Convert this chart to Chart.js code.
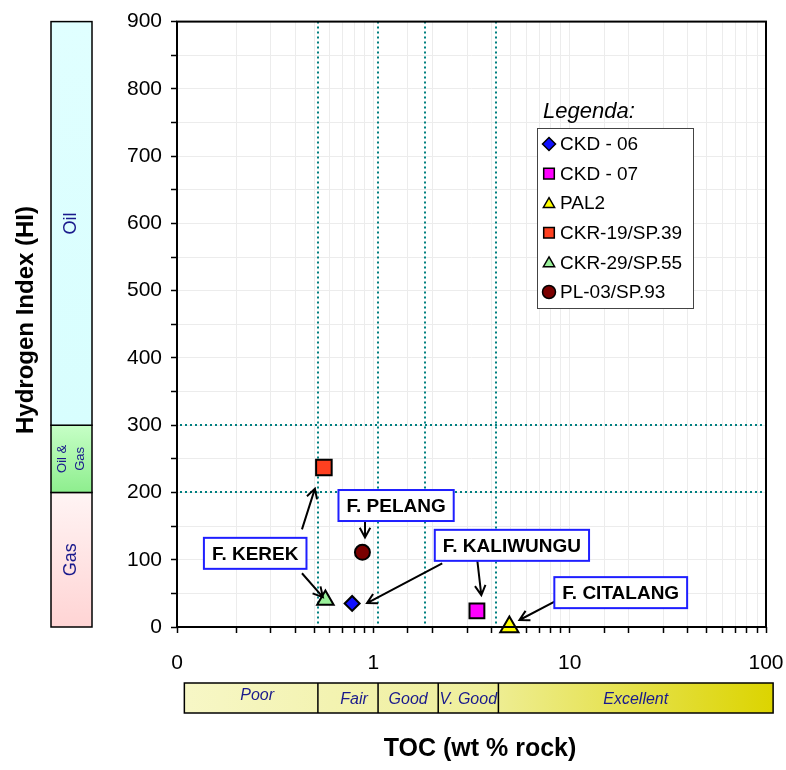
<!DOCTYPE html>
<html>
<head>
<meta charset="utf-8">
<script src="https://cdn.jsdelivr.net/npm/chart.js@4.4.0/dist/chart.umd.min.js"></script>
<style>
  body { margin: 0; background: #fff; }
  #wrap { width: 786px; height: 770px; }
</style>
</head>
<body>
<div id="wrap"><canvas id="grafico" width="786" height="770"></canvas></div>
<script>
// Datos de las muestras (TOC vs HI)
var muestras = ['CKD - 06', 'CKD - 07', 'PAL2', 'CKR-19/SP.39', 'CKR-29/SP.55', 'PL-03/SP.93'];
var toc = [0.78, 3.37, 4.93, 0.56, 0.57, 0.88];
var hi = [35, 24, 0, 237, 40, 111];

// Etiquetas de los ejes
var xTicks = [0.1, 1, 10, 100];
var xTickLabels = ['0', '1', '10', '100'];
var yTickLabels = [0, 100, 200, 300, 400, 500, 600, 700, 800, 900];

// Limites punteados
var limitesToc = [0.524, 1.061, 1.837, 4.234];
var limitesHi = [200, 300];

// Barra de calidad (TOC)
var calidad = ['Poor', 'Fair', 'Good', 'V. Good', 'Excellent'];
var calidadBordes = [0.109, 0.522, 1.057, 2.14, 4.335, 108.7];

// Barra de tipo de hidrocarburo (HI)
var zonas = ['Gas', 'Oil & Gas', 'Oil'];
var zonasBordes = [0, 200, 300, 900];

// Anotaciones (centro de la caja en TOC / HI)
var notas = ['F. KEREK', 'F. PELANG', 'F. KALIWUNGU', 'F. CITALANG'];
var notasToc = [0.2502, 1.306, 5.08, 18.2];
var notasHi = [109.5, 180.6, 121.4, 51.1];

// Flechas: desde / hasta
var flechaDesdeToc = [0.433, 0.433, 0.907, 2.243, 3.385, 8.47];
var flechaDesdeHi = [145.1, 79.9, 156.9, 94.7, 99.2, 38.5];
var flechaHastaToc = [0.504, 0.5535, 0.907, 0.9286, 3.548, 5.55];
var flechaHastaHi = [205.7, 44.4, 133.2, 35.5, 47.4, 10.4];

// Estilos
var estilos = ['rectRot', 'rect', 'triangle', 'rect', 'triangle', 'circle'];
var colores = ['#1010ff', '#ff00ff', '#ffff00', '#ff4020', '#99f099', '#7a0000'];
var radios = [7.5, 10.5, 10.5, 11, 9.5, 7.5];

var FUENTE = '"Liberation Sans", Arial, sans-serif';

var datasets = muestras.map(function (m, i) {
  return {
    label: m,
    data: [{ x: toc[i], y: hi[i] }],
    pointStyle: estilos[i],
    backgroundColor: colores[i],
    borderColor: '#000',
    borderWidth: 2,
    pointRadius: radios[i],
    pointHoverRadius: radios[i],
    clip: false
  };
});

function flecha(ctx, x1, y1, x2, y2) {
  var a = Math.atan2(y2 - y1, x2 - x1);
  var L = 11;
  ctx.beginPath();
  ctx.moveTo(x1, y1);
  ctx.lineTo(x2, y2);
  ctx.moveTo(x2 - L * Math.cos(a - 0.5), y2 - L * Math.sin(a - 0.5));
  ctx.lineTo(x2, y2);
  ctx.lineTo(x2 - L * Math.cos(a + 0.5), y2 - L * Math.sin(a + 0.5));
  ctx.stroke();
}

var decorado = {
  id: 'decorado',
  beforeDraw: function (chart) {
    var ctx = chart.ctx;
    ctx.save();
    ctx.fillStyle = '#fff';
    ctx.fillRect(0, 0, chart.width, chart.height);
    ctx.restore();
  },
  beforeDatasetsDraw: function (chart) {
    var ctx = chart.ctx, a = chart.chartArea;
    var xs = chart.scales.x, ys = chart.scales.y;
    ctx.save();
    ctx.strokeStyle = '#008080';
    ctx.lineWidth = 2;
    ctx.setLineDash([2, 3]);
    limitesToc.forEach(function (v) {
      var px = Math.round(xs.getPixelForValue(v));
      ctx.beginPath();
      ctx.moveTo(px, a.top);
      ctx.lineTo(px, a.bottom);
      ctx.stroke();
    });
    limitesHi.forEach(function (v) {
      var py = Math.round(ys.getPixelForValue(v));
      ctx.beginPath();
      ctx.moveTo(a.left + 3, py);
      ctx.lineTo(a.right, py);
      ctx.stroke();
    });
    ctx.restore();
  },
  afterDraw: function (chart) {
    var ctx = chart.ctx, a = chart.chartArea;
    var xs = chart.scales.x, ys = chart.scales.y;
    ctx.save();

    // marco del grafico
    ctx.strokeStyle = '#000';
    ctx.lineWidth = 2;
    ctx.strokeRect(a.left, a.top, a.right - a.left, a.bottom - a.top);

    // barra HI (izquierda)
    var bx = 51, bw = 41;
    var rellenos = [['#fff4f4', '#ffd4d4'], ['#c6ffc6', '#8eee8e'], ['#e0ffff', '#d8fefe']];
    for (var i = 0; i < zonas.length; i++) {
      var yTop = ys.getPixelForValue(zonasBordes[i + 1]);
      var yBot = ys.getPixelForValue(zonasBordes[i]);
      var g = ctx.createLinearGradient(0, yTop, 0, yBot);
      g.addColorStop(0, rellenos[i][0]);
      g.addColorStop(1, rellenos[i][1]);
      ctx.fillStyle = g;
      ctx.fillRect(bx, yTop, bw, yBot - yTop);
      ctx.strokeStyle = '#000';
      ctx.lineWidth = 1.5;
      ctx.strokeRect(bx, yTop, bw, yBot - yTop);
      ctx.save();
      ctx.translate(bx + bw / 2, (yTop + yBot) / 2);
      ctx.rotate(-Math.PI / 2);
      ctx.fillStyle = '#1a1a8c';
      ctx.textAlign = 'center';
      ctx.textBaseline = 'middle';
      if (zonas[i] === 'Oil & Gas') {
        ctx.font = '13px ' + FUENTE;
        ctx.fillText('Oil &', 0, -9);
        ctx.fillText('Gas', 0, 9);
      } else {
        ctx.font = '18px ' + FUENTE;
        ctx.fillText(zonas[i], 0, 0);
      }
      ctx.restore();
    }

    // barra de calidad TOC (abajo)
    var cy = 683, ch = 30;
    var cx0 = xs.getPixelForValue(calidadBordes[0]);
    var cx1 = xs.getPixelForValue(calidadBordes[calidadBordes.length - 1]);
    var gq = ctx.createLinearGradient(cx0, 0, cx1, 0);
    gq.addColorStop(0, '#f7f7c6');
    gq.addColorStop(0.5, '#efef9c');
    gq.addColorStop(1, '#dcd400');
    ctx.fillStyle = gq;
    ctx.fillRect(cx0, cy, cx1 - cx0, ch);
    ctx.strokeStyle = '#000';
    ctx.lineWidth = 1.5;
    ctx.strokeRect(cx0, cy, cx1 - cx0, ch);
    ctx.font = 'italic 16px ' + FUENTE;
    ctx.fillStyle = '#1a1a8c';
    ctx.textAlign = 'center';
    ctx.textBaseline = 'middle';
    for (var k = 0; k < calidad.length; k++) {
      var p0 = xs.getPixelForValue(calidadBordes[k]);
      var p1 = xs.getPixelForValue(calidadBordes[k + 1]);
      if (k > 0) {
        ctx.beginPath();
        ctx.moveTo(p0, cy);
        ctx.lineTo(p0, cy + ch);
        ctx.stroke();
      }
      ctx.fillText(calidad[k], (p0 + p1) / 2 + (k < 2 ? 6 : 0), cy + (k === 0 ? 13 : 17));
    }

    // titulos de ejes
    ctx.fillStyle = '#000';
    ctx.font = 'bold 25px ' + FUENTE;
    ctx.fillText('TOC (wt % rock)', 480, 749);
    ctx.save();
    ctx.translate(26, 320);
    ctx.rotate(-Math.PI / 2);
    ctx.font = 'bold 24px ' + FUENTE;
    ctx.fillText('Hydrogen Index (HI)', 0, 0);
    ctx.restore();

    // leyenda
    ctx.font = 'italic 22px ' + FUENTE;
    ctx.textAlign = 'left';
    ctx.textBaseline = 'alphabetic';
    ctx.fillText('Legenda:', 543, 118);
    ctx.fillStyle = '#fff';
    ctx.fillRect(537, 128, 156, 180);
    ctx.strokeStyle = '#444';
    ctx.lineWidth = 1;
    ctx.strokeRect(537.5, 128.5, 156, 180);
    ctx.font = '19px ' + FUENTE;
    ctx.textBaseline = 'middle';
    chart.data.datasets.forEach(function (ds, j) {
      var ly = 144 + j * 29.6;
      ctx.fillStyle = ds.backgroundColor;
      ctx.strokeStyle = '#000';
      ctx.lineWidth = 1.5;
      Chart.helpers.drawPoint(ctx, { pointStyle: ds.pointStyle, radius: ds.pointStyle === 'rect' ? 7.5 : 6.5, rotation: 0, borderWidth: 1.5 }, 549, ly + (ds.pointStyle === 'triangle' ? 1 : 0));
      ctx.fillStyle = '#000';
      ctx.fillText(ds.label, 560, ly + 1);
    });

    // flechas
    ctx.strokeStyle = '#000';
    ctx.lineWidth = 2;
    for (var f = 0; f < flechaDesdeToc.length; f++) {
      flecha(ctx,
        xs.getPixelForValue(flechaDesdeToc[f]), ys.getPixelForValue(flechaDesdeHi[f]),
        xs.getPixelForValue(flechaHastaToc[f]), ys.getPixelForValue(flechaHastaHi[f]));
    }

    // cajas de anotacion
    ctx.font = 'bold 19px ' + FUENTE;
    ctx.textAlign = 'center';
    ctx.textBaseline = 'middle';
    for (var n = 0; n < notas.length; n++) {
      var nx = xs.getPixelForValue(notasToc[n]);
      var ny = ys.getPixelForValue(notasHi[n]);
      var w = ctx.measureText(notas[n]).width + 16;
      var h = 31;
      ctx.fillStyle = '#fff';
      ctx.fillRect(nx - w / 2, ny - h / 2, w, h);
      ctx.strokeStyle = '#1f1fff';
      ctx.lineWidth = 2;
      ctx.strokeRect(nx - w / 2, ny - h / 2, w, h);
      ctx.fillStyle = '#000';
      ctx.fillText(notas[n], nx, ny + 1);
    }

    ctx.restore();
  }
};

var ctx = document.getElementById('grafico').getContext('2d');
var chart = new Chart(ctx, {
  type: 'scatter',
  data: { datasets: datasets },
  options: {
    responsive: false,
    animation: false,
    layout: { padding: { top: 19, right: 0, left: 0, bottom: 0 } },
    plugins: {
      legend: { display: false },
      tooltip: { enabled: false },
      title: { display: false }
    },
    scales: {
      x: {
        type: 'logarithmic',
        min: 0.1,
        max: 100,
        afterFit: function (s) { s.height = 143; s.paddingLeft = 0; s.paddingRight = 20; },
        border: { display: false },
        grid: { color: '#ececec', tickColor: '#000', tickLength: 6, tickWidth: 1.5 },
        ticks: {
          autoSkip: false,
          maxRotation: 0,
          padding: 18,
          color: '#000',
          font: { family: FUENTE, size: 21 },
          callback: function (v) {
            var i = xTicks.findIndex(function (t) { return Math.abs(t - v) < 1e-9; });
            return i >= 0 ? xTickLabels[i] : '';
          }
        }
      },
      y: {
        min: 0,
        max: 900,
        afterFit: function (s) { s.width = 177; },
        border: { display: false },
        grid: { color: '#ececec', tickColor: '#000', tickLength: 6, tickWidth: 1.5 },
        ticks: {
          stepSize: 50,
          autoSkip: false,
          padding: 9,
          color: '#000',
          font: { family: FUENTE, size: 21 },
          callback: function (v) { return yTickLabels.indexOf(v) >= 0 ? String(v) : ''; }
        }
      }
    }
  },
  plugins: [decorado]
});
</script>
</body>
</html>
